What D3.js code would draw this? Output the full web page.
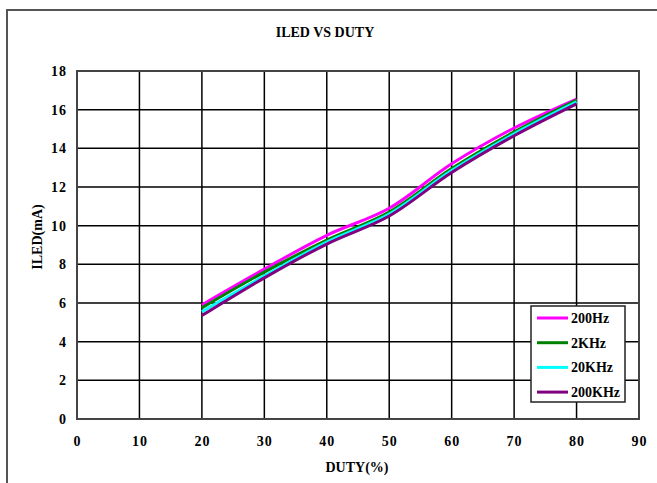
<!DOCTYPE html>
<html>
<head>
<meta charset="utf-8">
<script src="https://cdn.jsdelivr.net/npm/d3@7/dist/d3.min.js"></script>
<style>
  body { margin: 0; background: #fff; }
  svg text { font-family: "Liberation Serif", serif; fill: #000; }
</style>
</head>
<body>
<svg id="chart" width="657" height="483"></svg>
<script>
// data
var duty = [20, 30, 40, 50, 60, 70, 80];
var hz200 = [5.9, 7.75, 9.5, 10.9, 13.2, 15.05, 16.55];
var khz2 = [5.75, 7.6, 9.25, 10.7, 12.95, 14.85, 16.5];
var khz20 = [5.55, 7.4, 9.15, 10.6, 12.85, 14.75, 16.4];
var khz200 = [5.35, 7.3, 9.05, 10.5, 12.75, 14.65, 16.3];
var seriesNames = ["200Hz", "2KHz", "20KHz", "200KHz"];
var xTicks = [0, 10, 20, 30, 40, 50, 60, 70, 80, 90];
var yTicks = [0, 2, 4, 6, 8, 10, 12, 14, 16, 18];

var series = [
  {name: seriesNames[0], values: hz200, color: "#ff00ff"},
  {name: seriesNames[1], values: khz2, color: "#008000"},
  {name: seriesNames[2], values: khz20, color: "#00ffff"},
  {name: seriesNames[3], values: khz200, color: "#800080"}
];

var margin = {top: 71, right: 18, bottom: 64, left: 77},
    width = 657 - margin.left - margin.right,
    height = 483 - margin.top - margin.bottom;

var svg = d3.select("#chart");

// outer frame
svg.append("rect")
    .attr("x", 7).attr("y", 10)
    .attr("width", 670).attr("height", 500)
    .attr("fill", "none").attr("stroke", "#555").attr("stroke-width", 2);

var g = svg.append("g")
    .attr("transform", "translate(" + margin.left + "," + margin.top + ")");

var x = d3.scaleLinear().domain([0, 90]).range([0, width]);
var y = d3.scaleLinear().domain([0, 18]).range([height, 0]);

// grid
g.selectAll(".vgrid").data(xTicks).enter().append("line")
    .attr("x1", function(d) { return x(d); }).attr("x2", function(d) { return x(d); })
    .attr("y1", 0).attr("y2", height)
    .attr("stroke", "#000").attr("stroke-width", 1.5);
g.selectAll(".hgrid").data(yTicks).enter().append("line")
    .attr("y1", function(d) { return y(d); }).attr("y2", function(d) { return y(d); })
    .attr("x1", 0).attr("x2", width)
    .attr("stroke", "#000").attr("stroke-width", 1.5);

g.append("rect")
    .attr("width", width).attr("height", height)
    .attr("fill", "none").attr("stroke", "#444").attr("stroke-width", 2);

// axes labels (no tick marks)
var xAxis = g.append("g")
    .attr("transform", "translate(0," + height + ")")
    .call(d3.axisBottom(x).tickValues(xTicks).tickSize(0).tickPadding(17));
var yAxis = g.append("g")
    .call(d3.axisLeft(y).tickValues(yTicks).tickSize(0).tickPadding(10));
[xAxis, yAxis].forEach(function(a) {
  a.select(".domain").remove();
  a.selectAll("text")
    .style("font-family", "Liberation Serif, serif")
    .style("font-size", "14px")
    .style("font-weight", "bold")
    .style("letter-spacing", "1px")
    .attr("fill", "#000");
});

// lines
var line = d3.line()
    .x(function(d, i) { return x(duty[i]); })
    .y(function(d) { return y(d); })
    .curve(d3.curveCatmullRom.alpha(0.5));

g.selectAll(".series").data(series).enter().append("path")
    .attr("d", function(s) { return line(s.values); })
    .attr("fill", "none")
    .attr("stroke", function(s) { return s.color; })
    .attr("stroke-width", 3);

// titles
svg.append("text")
    .attr("x", 325).attr("y", 37)
    .attr("text-anchor", "middle")
    .style("font-size", "14px").style("font-weight", "bold")
    .text("ILED VS DUTY");
svg.append("text")
    .attr("x", 357).attr("y", 472)
    .attr("text-anchor", "middle")
    .style("font-size", "14px").style("font-weight", "bold")
    .text("DUTY(%)");
svg.append("text")
    .attr("transform", "translate(42,237) rotate(-90)")
    .attr("text-anchor", "middle")
    .style("font-size", "14px").style("font-weight", "bold")
    .text("ILED(mA)");

// legend
var lg = svg.append("g").attr("transform", "translate(531,306)");
lg.append("rect")
    .attr("width", 94).attr("height", 96)
    .attr("fill", "#fff").attr("stroke", "#222").attr("stroke-width", 1.5);
var items = lg.selectAll(".item").data(series).enter().append("g")
    .attr("transform", function(d, i) { return "translate(0," + (12 + i * 24.7) + ")"; });
items.append("line")
    .attr("x1", 6).attr("x2", 37)
    .attr("stroke", function(d) { return d.color; })
    .attr("stroke-width", 3);
items.append("text")
    .attr("x", 40).attr("y", 5)
    .style("font-size", "14px").style("font-weight", "bold")
    .text(function(d) { return d.name; });
</script>
</body>
</html>
